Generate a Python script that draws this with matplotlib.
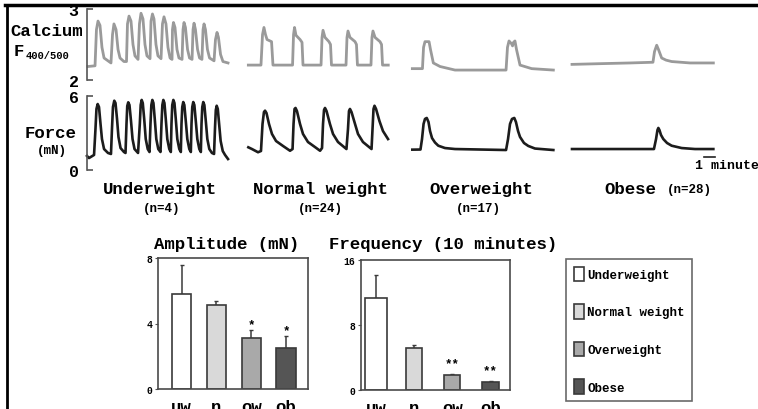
import matplotlib
matplotlib.use('Agg')
import matplotlib.pyplot as plt
from matplotlib.lines import Line2D

# groups and bar summary
groups = ['Underweight', 'Normal weight', 'Overweight', 'Obese']
group_n = ['(n=4)', '(n=24)', '(n=17)', '(n=28)']
bar_labels = ['uw', 'n', 'ow', 'ob']
bar_colors = ['#ffffff', '#d9d9d9', '#a9a9a9', '#555555']

amp_mean = [5.8, 5.1, 3.1, 2.5]
amp_err = [1.8, 0.3, 0.5, 0.75]
amp_marks = ['', '', '*', '*']

freq_mean = [11.3, 5.2, 1.9, 1.0]
freq_err = [2.9, 0.3, 0.1, 0.1]
freq_marks = ['', '', '**', '**']

scale_bar_min = 1.0

# traces: time in minutes from start of each record, calcium F400/500, force mN
uw_ca_t = [0.09, 0.73, 0.86, 1.00, 1.18, 1.36, 1.55, 1.91, 2.18,
           2.32, 2.45, 2.64, 2.82, 3.00, 3.36, 3.59,
           3.68, 3.82, 4.00, 4.18, 4.36, 4.64,
           4.77, 4.91, 5.09, 5.27, 5.45, 5.73,
           5.82, 5.95, 6.09, 6.27, 6.45, 6.73,
           6.86, 7.00, 7.18, 7.36, 7.55, 7.73,
           7.77, 7.86, 8.00, 8.18, 8.36, 8.64,
           8.73, 8.82, 8.95, 9.14, 9.32, 9.55,
           9.64, 9.73, 9.86, 10.05, 10.23, 10.45,
           10.55, 10.64, 10.77, 10.95, 11.14, 11.55,
           11.68, 11.82, 11.95, 12.14, 12.36, 12.82]
uw_ca_v = [2.19, 2.20, 2.71, 2.83, 2.77, 2.46, 2.31, 2.27, 2.24,
           2.64, 2.79, 2.71, 2.43, 2.31, 2.26, 2.26,
           2.79, 2.90, 2.83, 2.50, 2.34, 2.29,
           2.79, 2.94, 2.86, 2.50, 2.34, 2.30,
           2.83, 2.93, 2.86, 2.50, 2.34, 2.30,
           2.79, 2.89, 2.79, 2.46, 2.31, 2.29,
           2.71, 2.81, 2.74, 2.43, 2.31, 2.29,
           2.71, 2.81, 2.74, 2.43, 2.31, 2.29,
           2.71, 2.80, 2.71, 2.43, 2.31, 2.29,
           2.71, 2.79, 2.71, 2.43, 2.31, 2.27,
           2.57, 2.67, 2.60, 2.36, 2.26, 2.24]

uw_f_t = [0.0, 0.18, 0.64, 0.77, 0.86, 0.97, 1.09, 1.23, 1.36, 1.55, 1.91, 2.18,
          2.27, 2.36, 2.48, 2.59, 2.73, 2.86, 3.05, 3.36, 3.50,
          3.59, 3.66, 3.75, 3.86, 4.00, 4.14, 4.32, 4.64,
          4.80, 4.88, 4.97, 5.07, 5.20, 5.34, 5.52, 5.68,
          5.77, 5.85, 5.94, 6.04, 6.16, 6.30, 6.48, 6.68,
          6.77, 6.85, 6.94, 7.04, 7.16, 7.30, 7.48, 7.62,
          7.68, 7.75, 7.85, 7.95, 8.07, 8.21, 8.39, 8.53,
          8.59, 8.66, 8.75, 8.85, 8.98, 9.12, 9.30, 9.44,
          9.50, 9.57, 9.66, 9.76, 9.89, 10.03, 10.21, 10.35,
          10.41, 10.48, 10.57, 10.67, 10.80, 10.94, 11.12, 11.36, 11.55,
          11.64, 11.71, 11.79, 11.89, 12.02, 12.15, 12.34, 12.55, 12.82]
uw_f_v = [1.14, 0.97, 1.22, 3.32, 4.95, 5.35, 5.11, 3.73, 2.51, 1.70, 1.38, 1.30,
          3.32, 5.11, 5.62, 5.43, 4.14, 2.68, 1.78, 1.46, 1.38,
          3.73, 5.19, 5.49, 5.27, 3.97, 2.51, 1.70, 1.38,
          3.73, 5.27, 5.68, 5.43, 4.14, 2.51, 1.70, 1.46,
          3.73, 5.27, 5.68, 5.43, 4.14, 2.51, 1.70, 1.46,
          3.73, 5.27, 5.68, 5.43, 4.14, 2.51, 1.70, 1.46,
          3.73, 5.27, 5.68, 5.43, 4.14, 2.51, 1.70, 1.46,
          3.73, 5.11, 5.51, 5.27, 3.97, 2.51, 1.70, 1.46,
          3.73, 5.11, 5.51, 5.27, 3.97, 2.51, 1.70, 1.46,
          3.73, 5.11, 5.51, 5.27, 3.97, 2.51, 1.70, 1.38, 1.30,
          3.49, 4.86, 5.21, 4.95, 3.65, 2.35, 1.54, 1.22, 0.89]

nw_ca_t = [0.03, 1.18, 1.32, 1.45, 1.59, 1.73, 2.14, 2.27,
           4.05, 4.14, 4.23, 4.36, 4.73, 4.91, 5.00,
           6.64, 6.73, 6.82, 7.00, 7.36, 7.50, 7.59,
           8.91, 9.00, 9.09, 9.27, 9.73, 9.86, 9.95,
           11.18, 11.27, 11.36, 11.55, 12.00, 12.14, 12.23, 12.75]
nw_ca_v = [2.21, 2.21, 2.64, 2.74, 2.64, 2.57, 2.54, 2.21,
           2.21, 2.64, 2.74, 2.63, 2.57, 2.53, 2.21,
           2.21, 2.60, 2.70, 2.60, 2.54, 2.50, 2.21,
           2.21, 2.60, 2.69, 2.60, 2.54, 2.50, 2.21,
           2.21, 2.60, 2.69, 2.60, 2.54, 2.50, 2.21, 2.21]

nw_f_t = [0.03, 0.36, 0.91, 1.18, 1.32, 1.45, 1.55, 1.68, 1.91, 2.18, 2.55, 3.18, 3.82,
          4.05, 4.14, 4.23, 4.32, 4.45, 4.73, 5.00, 5.45, 6.09, 6.55,
          6.73, 6.82, 6.91, 7.00, 7.14, 7.45, 7.73, 8.18, 8.95,
          9.09, 9.18, 9.27, 9.41, 9.73, 10.00, 10.45, 11.23,
          11.32, 11.41, 11.50, 11.64, 11.95, 12.27, 12.73]
nw_f_v = [1.84, 1.70, 1.44, 1.54, 3.73, 4.70, 4.81, 4.62, 3.73, 2.92, 2.35, 1.95, 1.56,
          1.70, 3.73, 4.95, 5.03, 4.78, 3.73, 2.92, 2.27, 1.86, 1.56,
          1.78, 3.73, 4.86, 5.03, 4.78, 3.73, 2.92, 2.27, 1.70,
          3.32, 4.78, 4.95, 4.70, 3.73, 2.92, 2.27, 1.70,
          3.32, 4.95, 5.21, 4.95, 3.97, 3.16, 2.51]

ow_ca_t = [0.03, 0.95, 1.05, 1.18, 1.55, 1.68, 1.94, 2.55, 3.91,
           8.55, 8.68, 8.82, 9.05, 9.14, 9.23, 9.36, 9.50, 9.82, 10.88, 12.85]
ow_ca_v = [2.16, 2.16, 2.46, 2.54, 2.54, 2.43, 2.24, 2.19, 2.14,
           2.14, 2.46, 2.55, 2.51, 2.48, 2.53, 2.55, 2.43, 2.21, 2.16, 2.14]

ow_f_t = [0.03, 0.77, 0.91, 1.05, 1.18, 1.34, 1.50, 1.64, 1.82, 2.09, 2.39, 3.00, 3.91,
          8.55, 8.73, 8.91, 9.09, 9.30, 9.45, 9.64, 9.82, 10.18, 10.57, 11.18, 12.85]
ow_f_v = [1.65, 1.66, 2.51, 3.73, 4.14, 4.22, 3.89, 3.16, 2.59, 2.23, 1.97, 1.78, 1.70,
          1.62, 2.51, 3.73, 4.14, 4.22, 3.89, 3.16, 2.68, 2.19, 1.95, 1.74, 1.62]

ob_ca_t = [0.0, 2.55, 5.27, 7.36, 7.50, 7.70, 7.86, 8.15, 8.55, 9.06, 10.73, 12.85]
ob_ca_v = [2.22, 2.23, 2.24, 2.25, 2.40, 2.49, 2.43, 2.31, 2.28, 2.26, 2.24, 2.24]

ob_f_t = [0.0, 7.45, 7.64, 7.77, 7.85, 7.95, 8.09, 8.30, 8.64, 9.06, 9.97, 11.18, 12.85]
ob_f_v = [1.70, 1.70, 2.51, 3.24, 3.41, 3.24, 2.84, 2.51, 2.19, 1.97, 1.78, 1.70, 1.70]

W, H = 758, 410


def box(x, y, w, h):
    # pixel box (top-left origin) -> figure fraction
    return [x / W, 1 - (y + h) / H, w / W, h / H]


def main():
    plt.rcParams['font.family'] = ['Liberation Mono', 'DejaVu Sans']
    plt.rcParams['font.weight'] = 'bold'

    fig = plt.figure(figsize=(W / 100, H / 100), dpi=100)
    fig.patch.set_facecolor('white')

    traces = [(uw_ca_t, uw_ca_v, uw_f_t, uw_f_v),
              (nw_ca_t, nw_ca_v, nw_f_t, nw_f_v),
              (ow_ca_t, ow_ca_v, ow_f_t, ow_f_v),
              (ob_ca_t, ob_ca_v, ob_f_t, ob_f_v)]
    left_px = [87, 248, 412, 572]

    for i, (ct, cv, ft, fv) in enumerate(traces):
        ax_c = fig.add_axes(box(left_px[i], 10, 143, 71))
        ax_f = fig.add_axes(box(left_px[i], 97, 143, 74))
        ax_c.plot(ct, cv, color='#9a9a9a', lw=2.0, clip_on=False,
                  solid_joinstyle='round')
        ax_f.plot(ft, fv, color='#1c1c1c', lw=1.9, clip_on=False,
                  solid_joinstyle='round')
        ax_c.set_xlim(0, 13)
        ax_c.set_ylim(2, 3)
        ax_f.set_xlim(0, 13)
        ax_f.set_ylim(0, 6)
        for ax in (ax_c, ax_f):
            ax.patch.set_visible(False)
            ax.set_xticks([])
            for s in ('top', 'right', 'bottom'):
                ax.spines[s].set_visible(False)
            if i == 0:
                ax.spines['left'].set_color('#555555')
                ax.spines['left'].set_linewidth(1.2)
                ax.tick_params(axis='y', direction='in', length=4, width=1.2,
                               color='#555555', labelsize=12, pad=6)
            else:
                ax.spines['left'].set_visible(False)
                ax.set_yticks([])
        if i == 0:
            ax_c.set_yticks([2, 3])
            ax_f.set_yticks([0, 6])
        if i == 3:
            ax_f.plot([13 - scale_bar_min, 13], [1.05, 1.05], color='#222222',
                      lw=1.2, clip_on=False)

    # row labels
    fig.text(47 / W, 1 - 32 / H, 'Calcium', fontsize=12.5, ha='center', va='center')
    fig.text(14 / W, 1 - 52 / H, 'F', fontsize=12.5, ha='left', va='center')
    fig.text(26 / W, 1 - 56 / H, '400/500', fontsize=7.5, ha='left', va='center')
    fig.text(51 / W, 1 - 134 / H, 'Force', fontsize=12.5, ha='center', va='center')
    fig.text(52 / W, 1 - 151 / H, '(mN)', fontsize=9, ha='center', va='center')
    fig.text(695 / W, 1 - 166 / H, '1 minute', fontsize=9.5, ha='left', va='center')

    # group labels
    label_x = [160, 320, 481]
    n_x = [162, 320, 478]
    for i in range(3):
        fig.text(label_x[i] / W, 1 - 190 / H, groups[i], fontsize=12.5,
                 ha='center', va='center')
        fig.text(n_x[i] / W, 1 - 209 / H, group_n[i], fontsize=9,
                 ha='center', va='center')
    fig.text(604 / W, 1 - 190 / H, groups[3], fontsize=12.5, ha='left', va='center')
    fig.text(667 / W, 1 - 190 / H, group_n[3], fontsize=9, ha='left', va='center')

    # bar charts
    ax_a = fig.add_axes(box(158, 259, 150, 131))
    ax_q = fig.add_axes(box(361, 261, 149, 130))
    xs = list(range(len(bar_labels)))

    bars = ax_a.bar(xs, amp_mean, width=0.55, color=bar_colors,
                    edgecolor='#3a3a3a', linewidth=1.2, zorder=2)
    ax_a.errorbar(xs, amp_mean, yerr=[[0] * 4, amp_err], fmt='none',
                  ecolor='#3a3a3a', elinewidth=1.1, capsize=1.5, zorder=1)
    ax_q.bar(xs, freq_mean, width=[0.57, 0.42, 0.42, 0.42], color=bar_colors,
             edgecolor='#3a3a3a', linewidth=1.2, zorder=2)
    ax_q.errorbar(xs, freq_mean, yerr=[[0] * 4, freq_err], fmt='none',
                  ecolor='#3a3a3a', elinewidth=1.1, capsize=1.5, zorder=1)

    for ax, mean, err, marks, off in ((ax_a, amp_mean, amp_err, amp_marks, 0),
                                      (ax_q, freq_mean, freq_err, freq_marks, 3.5)):
        for i, m in enumerate(marks):
            if m:
                ax.annotate(m, (i, mean[i] + err[i]), xytext=(0, off),
                            textcoords='offset points', ha='center',
                            va='bottom', fontsize=9)

    ax_a.set_xlim(-0.675, 3.63)
    ax_a.set_ylim(0, 8)
    ax_a.set_yticks([0, 4, 8])
    ax_q.set_xlim(-0.39, 3.51)
    ax_q.set_ylim(0, 16)
    ax_q.set_yticks([0, 8, 16])
    for ax in (ax_a, ax_q):
        ax.set_xticks(xs)
        ax.set_xticklabels(bar_labels)
        ax.tick_params(axis='x', length=0, labelsize=12.5, pad=7)
        ax.tick_params(axis='y', length=2, labelsize=7, pad=2, color='#555555')
        for s in ax.spines.values():
            s.set_color('#4a4a4a')
            s.set_linewidth(1.2)

    fig.text(227 / W, 1 - 245 / H, 'Amplitude (mN)', fontsize=12.5,
             ha='center', va='center')
    fig.text(443 / W, 1 - 245 / H, 'Frequency (10 minutes)', fontsize=12.5,
             ha='center', va='center')

    leg = fig.legend(bars, groups, loc='upper left',
                     bbox_to_anchor=(566 / W, 1 - 260 / H), borderaxespad=0,
                     fontsize=9, handlelength=0.8, handleheight=1.4,
                     labelspacing=1.85, handletextpad=0.3, borderpad=0.6,
                     fancybox=False, edgecolor='#444444')
    leg.get_frame().set_linewidth(1.2)

    # frame lines along top and left edge
    fig.add_artist(Line2D([5 / W, 1], [1 - 6 / H, 1 - 6 / H], color='black', lw=2.5))
    fig.add_artist(Line2D([7 / W, 7 / W], [0, 1 - 6 / H], color='black', lw=2.0))

    fig.savefig('out.png', dpi=100)


if '__main__' == __name__:
    main()
